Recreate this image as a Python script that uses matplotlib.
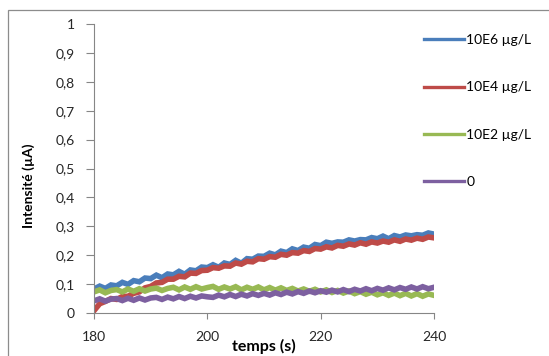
import matplotlib.pyplot as plt
from matplotlib.patches import Rectangle

plt.rcParams['font.family'] = ['Lato', 'DejaVu Sans']

# temps (s)
temps = list(range(180, 241))

# 10E6 ug/L
bleu = [0.083, 0.093, 0.085, 0.097, 0.094, 0.106, 0.099, 0.112, 0.108, 0.121, 0.119,
        0.131, 0.122, 0.135, 0.132, 0.144, 0.134, 0.149, 0.146, 0.159, 0.157,
        0.167, 0.158, 0.173, 0.168, 0.182, 0.172, 0.188, 0.186, 0.197, 0.196,
        0.207, 0.201, 0.214, 0.209, 0.222, 0.216, 0.228, 0.224, 0.237, 0.233,
        0.245, 0.241, 0.246, 0.245, 0.253, 0.249, 0.254, 0.253, 0.261, 0.257,
        0.266, 0.257, 0.268, 0.263, 0.270, 0.267, 0.271, 0.269, 0.277, 0.273]
# 10E4 ug/L
rouge = [0.008, 0.032, 0.040, 0.050, 0.047, 0.057, 0.058, 0.068, 0.073, 0.087, 0.092,
         0.104, 0.106, 0.117, 0.117, 0.127, 0.125, 0.138, 0.137, 0.147, 0.148,
         0.157, 0.155, 0.163, 0.162, 0.173, 0.169, 0.179, 0.177, 0.188, 0.186,
         0.195, 0.193, 0.203, 0.200, 0.209, 0.207, 0.216, 0.213, 0.223, 0.221,
         0.229, 0.225, 0.234, 0.231, 0.239, 0.235, 0.243, 0.238, 0.246, 0.242,
         0.249, 0.245, 0.253, 0.248, 0.256, 0.252, 0.259, 0.255, 0.263, 0.260]
# 10E2 ug/L
vert = [0.073, 0.080, 0.070, 0.078, 0.081, 0.073, 0.083, 0.075, 0.084, 0.076, 0.083,
        0.086, 0.078, 0.085, 0.089, 0.080, 0.090, 0.082, 0.091, 0.083, 0.088,
        0.092, 0.082, 0.090, 0.083, 0.091, 0.080, 0.089, 0.082, 0.090, 0.080,
        0.088, 0.079, 0.087, 0.078, 0.085, 0.076, 0.083, 0.075, 0.082, 0.073,
        0.080, 0.071, 0.078, 0.069, 0.076, 0.067, 0.074, 0.065, 0.072, 0.063,
        0.070, 0.061, 0.069, 0.060, 0.068, 0.059, 0.067, 0.058, 0.066, 0.061]
# 0
violet = [0.042, 0.049, 0.041, 0.048, 0.050, 0.043, 0.051, 0.044, 0.052, 0.045, 0.052,
          0.054, 0.047, 0.055, 0.049, 0.057, 0.050, 0.058, 0.052, 0.059, 0.056,
          0.054, 0.062, 0.056, 0.064, 0.057, 0.065, 0.059, 0.067, 0.061, 0.068,
          0.062, 0.070, 0.064, 0.072, 0.066, 0.074, 0.068, 0.076, 0.070, 0.077,
          0.072, 0.079, 0.073, 0.081, 0.074, 0.082, 0.076, 0.084, 0.077, 0.085,
          0.079, 0.087, 0.080, 0.088, 0.082, 0.090, 0.083, 0.091, 0.084, 0.089]

series = [bleu, rouge, vert, violet]
noms = ['10E6 µg/L', '10E4 µg/L', '10E2 µg/L', '0']
couleurs = ['#4A7EBB', '#BE4B48', '#98B954', '#7D60A0']

yticks = [0, 0.1, 0.2, 0.3, 0.4, 0.5, 0.6, 0.7, 0.8, 0.9, 1]
ylabels = ['0', '0,1', '0,2', '0,3', '0,4', '0,5', '0,6', '0,7', '0,8', '0,9', '1']
xticks = [180, 200, 220, 240]

fig = plt.figure(figsize=(5.49, 3.56), dpi=100)
ax = fig.add_axes([94 / 549, 1 - 313 / 356, 340 / 549, 289 / 356])

# cadre du graphique (coupé à droite et en bas)
fig.patches.append(Rectangle((8 / 549, -0.1), 1.2, 1.1 - 10 / 356,
                             transform=fig.transFigure, fill=False,
                             edgecolor='#8C8C8C', linewidth=0.9))

lignes = []
for y, nom, c in zip(series, noms, couleurs):
    l, = ax.plot(temps, y, color=c, linewidth=4.0, label=nom,
                 solid_joinstyle='miter')
    lignes.append(l)

ax.set_xlim(180, 240)
ax.set_ylim(0, 1)
ax.set_xticks(xticks)
ax.set_yticks(yticks)
ax.set_yticklabels(ylabels)

for s in ['top', 'right']:
    ax.spines[s].set_visible(False)
for s in ['left', 'bottom']:
    ax.spines[s].set_color('#868686')
    ax.spines[s].set_linewidth(0.8)

ax.tick_params(axis='y', length=6, width=0.8, color='#868686', pad=8,
               labelsize=10, labelcolor='#262626')
ax.tick_params(axis='x', length=4, width=0.8, color='#868686', pad=9,
               labelsize=10, labelcolor='#262626')

ax.set_xlabel('temps (s)', fontsize=11.5, fontweight='bold')
ax.xaxis.set_label_coords(0.5, -0.09)
ax.set_ylabel('Intensité (µA)', fontsize=10, fontweight='bold')
ax.yaxis.set_label_coords(-0.175, 0.44)

leg = fig.legend(handles=lignes, loc='upper left',
                 bbox_to_anchor=(424 / 549, 1 - 34 / 356), frameon=False,
                 fontsize=10, handlelength=2.9, handletextpad=0.15,
                 labelspacing=2.55, borderpad=0, borderaxespad=0)
for h in leg.legend_handles:
    h.set_linewidth(2.4)

plt.savefig('out.png', dpi=100)
